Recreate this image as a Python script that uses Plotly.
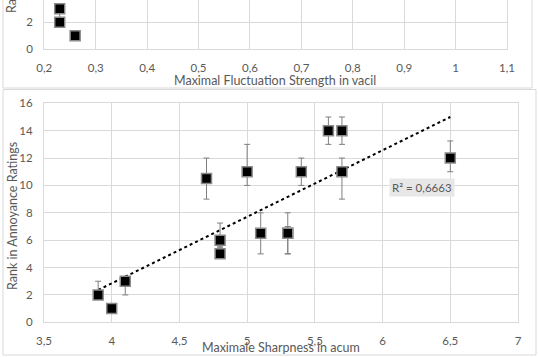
import numpy as np
import plotly.graph_objects as go

W, H = 538, 357

# ---- data: top (cropped) chart ----
fs_x = [0.23, 0.23, 0.26]
fs_y = [3, 2, 1]
fs_err_plus = [0, 1, 0]
fs_err_minus = [0, 0, 0]

# ---- data: bottom chart ----
sh_x = [3.9, 4.0, 4.1, 4.7, 4.8, 4.8, 5.0, 5.1, 5.3, 5.3, 5.4, 5.6, 5.7, 5.7, 6.5]
sh_y = [2, 1, 3, 10.5, 6, 5, 11, 6.5, 6.5, 6.5, 11, 14, 14, 11, 12]
sh_err_plus = [1, 0, 0, 1.5, 1.25, 0.5, 2, 1.5, 1.5, 0.5, 1, 1, 1, 1, 1.25]
sh_err_minus = [0, 0, 1, 1.5, 0.5, 0, 1, 1.5, 1.5, 1.5, 1, 1, 1, 2, 1]

top_xticks = [0.2, 0.3, 0.4, 0.5, 0.6, 0.7, 0.8, 0.9, 1.0, 1.1]
bot_xticks = [3.5, 4, 4.5, 5, 5.5, 6, 6.5, 7]
bot_yticks = [0, 2, 4, 6, 8, 10, 12, 14, 16]
r2_label = "R² = 0,6663"


def px(x):
    return x / W


def py(y):
    return 1 - y / H


GRID = "#d9d9d9"
TXT = "#595959"
FONT = "Lato"

marker = dict(symbol="square", size=10, color="black",
              line=dict(color="#8a8a8a", width=1.5))

fig = go.Figure()

# top chart points
fig.add_trace(go.Scatter(
    x=fs_x, y=fs_y, mode="markers", marker=marker,
    error_y=dict(type="data", array=fs_err_plus, arrayminus=fs_err_minus,
                 color="#7f7f7f", thickness=1, width=3),
    xaxis="x2", yaxis="y2", showlegend=False))

# linear trendline computed from the data
coef = np.polyfit(sh_x, sh_y, 1)
tx = np.array([min(sh_x), max(sh_x)])
ty = np.polyval(coef, tx)
fig.add_trace(go.Scatter(x=tx, y=ty, mode="lines",
                         line=dict(color="black", width=2, dash="dot"),
                         showlegend=False))

fig.add_trace(go.Scatter(
    x=sh_x, y=sh_y, mode="markers", marker=marker,
    error_y=dict(type="data", array=sh_err_plus, arrayminus=sh_err_minus,
                 color="#7f7f7f", thickness=1, width=3),
    showlegend=False))

axis_common = dict(showgrid=True, gridcolor=GRID, gridwidth=1, zeroline=False,
                   showline=True, linecolor=GRID, linewidth=1, mirror=True,
                   tickfont=dict(family=FONT, size=11.5, color=TXT),
                   ticks="", ticklabelstandoff=8, fixedrange=True,
                   automargin=False)

fig.update_layout(
    width=W, height=H,
    margin=dict(l=0, r=0, t=0, b=0, autoexpand=False),
    paper_bgcolor="white", plot_bgcolor="white",
    separators=", ",
    hovermode=False,
    xaxis=dict(domain=[px(44), px(518)], range=[3.5, 7], tickvals=bot_xticks,
               anchor="y", **axis_common),
    yaxis=dict(domain=[py(322.3), py(103.3)], range=[0, 16], tickvals=bot_yticks,
               anchor="x", **axis_common),
    xaxis2=dict(domain=[px(44.3), px(507)], range=[0.2, 1.1], tickvals=top_xticks,
                anchor="y2", **axis_common),
    yaxis2=dict(domain=[py(49.3), 1.0], range=[0, 49.3 / 13.5], tickvals=[0, 2],
                anchor="x2", **axis_common),
    shapes=[
        dict(type="rect", xref="paper", yref="paper", x0=px(3), x1=px(532),
             y0=py(88), y1=1.05, line=dict(color=GRID, width=1)),
        dict(type="rect", xref="paper", yref="paper", x0=px(3), x1=px(536),
             y0=py(355), y1=py(89.5), line=dict(color=GRID, width=1)),
    ],
    annotations=[
        dict(text="Maximal Fluctuation Strength in vacil", xref="paper", yref="paper",
             x=px(275), y=py(80), showarrow=False, xanchor="center", yanchor="middle",
             font=dict(family=FONT, size=12.5, color=TXT)),
        dict(text="Rank in Annoyance Ratings", xref="paper", yref="paper",
             x=px(12), y=py(15), showarrow=False, textangle=-90,
             xanchor="center", yanchor="bottom",
             font=dict(family=FONT, size=12.5, color=TXT)),
        dict(text="Maximale Sharpness in acum", xref="paper", yref="paper",
             x=px(281), y=py(347), showarrow=False, xanchor="center", yanchor="middle",
             font=dict(family=FONT, size=12.5, color=TXT)),
        dict(text="Rank in Annoyance Ratings", xref="paper", yref="paper",
             x=px(13), y=py(216), showarrow=False, textangle=-90,
             xanchor="center", yanchor="middle",
             font=dict(family=FONT, size=12.5, color=TXT)),
        dict(text=r2_label, x=6.29, y=9.83, xref="x", yref="y", showarrow=False,
             xanchor="center", yanchor="middle", bgcolor="#e7e7e7", borderpad=2,
             font=dict(family=FONT, size=11.5, color=TXT)),
    ],
)

fig.write_html("out.html",
               config={"displayModeBar": False, "staticPlot": True},
               post_script="document.body.style.margin='0';document.body.style.overflow='hidden';")
